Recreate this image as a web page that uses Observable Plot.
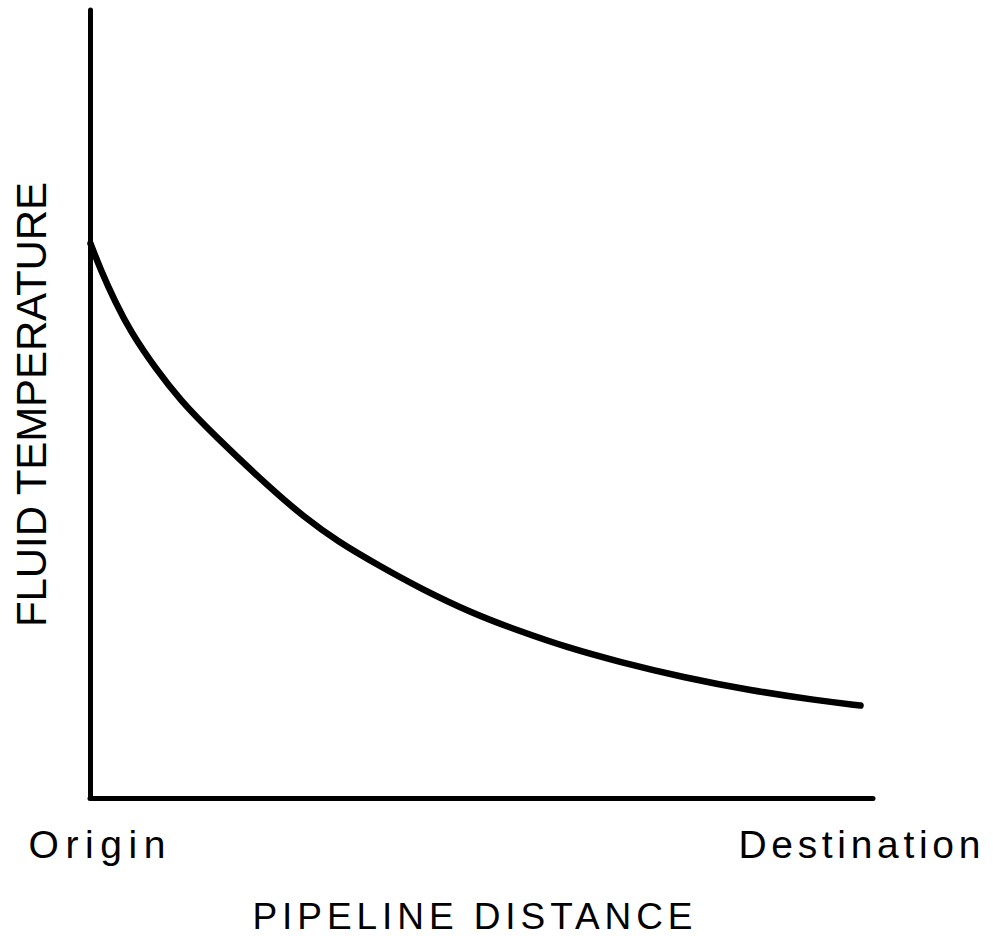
<!DOCTYPE html>
<html><head><meta charset="utf-8">
<script src="https://cdn.jsdelivr.net/npm/d3@7"></script>
<script src="https://cdn.jsdelivr.net/npm/@observablehq/plot@0.6"></script>
<style>body{margin:0;background:#fff}</style>
</head><body><div id="chart"></div>
<script>
// Curve: fluid temperature along the pipeline (relative units, 0–100)
const distance    = [0, 1.28, 3.19, 5.11, 8.30, 11.49, 15.71, 22.99, 27.20, 31.55, 37.04, 42.15, 48.53, 54.92, 60.92, 67.31, 75.73, 84.29, 92.85, 98.34];
const temperature = [70.43, 67.13, 62.94, 59.26, 54.57, 50.51, 46.19, 39.34, 35.79, 32.61, 29.44, 26.65, 23.60, 21.19, 19.16, 17.39, 15.36, 13.71, 12.44, 11.80];
const tickPositions = [0.83, 98.2];
const tickLabels = ["Origin", "Destination"];
const xLabel = "PIPELINE DISTANCE";
const yLabel = "FLUID TEMPERATURE";

const curveData = distance.map((d, i) => ({distance: d, temperature: temperature[i]}));
const font = "'Liberation Sans', 'DejaVu Sans', sans-serif";

// rendered text widths (px) to mimic the letter-spaced condensed lettering
const textWidths = {"Origin": 137, "Destination": 242, "PIPELINE DISTANCE": 440, "FLUID TEMPERATURE": 445};

const chart = Plot.plot({
  width: 993, height: 936,
  marginLeft: 90, marginRight: 120, marginTop: 10, marginBottom: 138,
  x: {domain: [0, 100], axis: null},
  y: {domain: [0, 100], axis: null},
  style: {background: "#fff", color: "#000", fontFamily: font, fontStretch: "condensed"},
  marks: [
    Plot.ruleX([0], {stroke: "#000", strokeWidth: 5, strokeLinecap: "round"}),
    Plot.ruleY([0], {stroke: "#000", strokeWidth: 5, strokeLinecap: "round"}),
    Plot.line(curveData, {x: "distance", y: "temperature", stroke: "#000", strokeWidth: 6.5, curve: "basis", strokeLinecap: "round", strokeLinejoin: "round"}),
    Plot.text(tickLabels, {x: (d, i) => tickPositions[i], frameAnchor: "bottom", text: d => d, lineAnchor: "top", dy: 32, fontSize: 39, fill: "#000"}),
    Plot.text([xLabel], {frameAnchor: "bottom", text: d => d, lineAnchor: "top", dy: 104, dx: -9.5, fontSize: 37, fill: "#000"}),
    Plot.text([yLabel], {frameAnchor: "left", textAnchor: "middle", text: d => d, rotate: -90, lineAnchor: "middle", dx: -58, fontSize: 42, fill: "#000"})
  ]
});

d3.select(chart).selectAll("text").each(function() {
  const w = textWidths[this.textContent];
  if (w) d3.select(this).attr("textLength", w).attr("lengthAdjust", "spacing");
});
document.getElementById("chart").appendChild(chart);
</script>
</body></html>
